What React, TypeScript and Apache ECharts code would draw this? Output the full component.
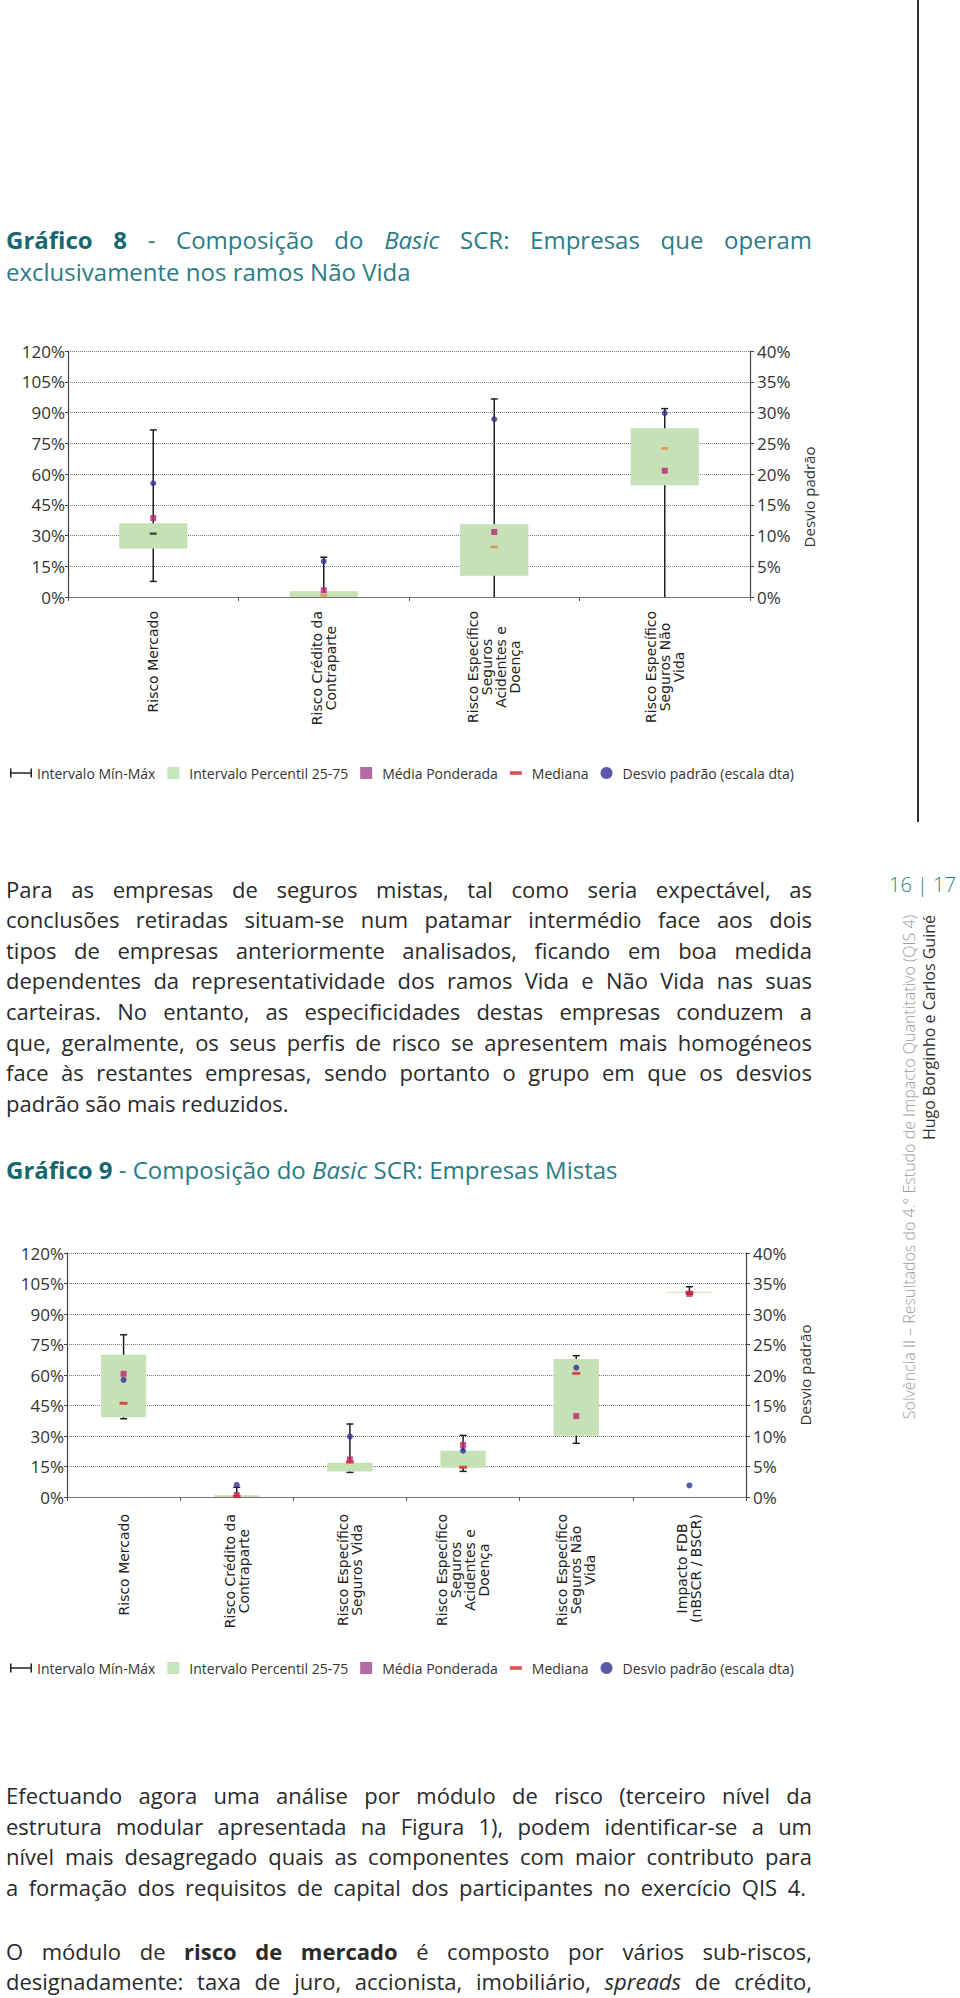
import React, { useEffect, useRef } from 'react';
import * as echarts from 'echarts';

// ---------------- Gráfico 8 (Não Vida) ----------------
const cats8 = [
  'Risco Mercado',
  'Risco Crédito da\nContraparte',
  'Risco Específico\nSeguros\nAcidentes e\nDoença',
  'Risco Específico\nSeguros Não\nVida',
];
const min8 = [7.6, 0, 0, 0];
const max8 = [81.5, 19.4, 96.6, 91.9];
const p25_8 = [23.7, 0, 10.4, 54.5];
const p75_8 = [36.0, 2.8, 35.5, 82.3];
const mean8 = [38.5, 3.3, 31.7, 61.6];
const median8 = [30.9, 0.8, 24.4, 72.5];
const std8 = [18.5, 5.8, 28.9, 29.9];
const medianColors8 = ['#2a2a2a', '#e8873a', '#e8873a', '#e8873a'];

// ---------------- Gráfico 9 (Mistas) ----------------
const cats9 = [
  'Risco Mercado',
  'Risco Crédito da\nContraparte',
  'Risco Específico\nSeguros Vida',
  'Risco Específico\nSeguros\nAcidentes e\nDoença',
  'Risco Específico\nSeguros Não\nVida',
  'Impacto FDB\n(nBSCR / BSCR)',
];
const min9 = [38.5, 0, 12.1, 12.6, 26.4, 99.8];
const max9 = [79.8, 4.8, 35.9, 30.3, 69.5, 103.4];
const p25_9 = [39.2, 0, 12.6, 14.4, 30.1, 100.4];
const p75_9 = [70.0, 0.8, 16.9, 22.8, 67.9, 101.0];
const mean9 = [60.6, 1.0, 18.5, 25.6, 39.8, 99.9];
const median9 = [46.1, 0.3, 17.2, 14.6, 60.8, 100.6];
const std9 = [19.2, 2.0, 9.9, 7.6, 21.2, 1.9];
const medianColors9 = ['#d6262b', '#d6262b', '#d6262b', '#d6262b', '#d6262b', '#d6262b'];

// axes
const leftAxis = { min: 0, max: 120, interval: 15 };
const rightAxis = { min: 0, max: 40, interval: 5 };
const rightAxisName = 'Desvio padrão';

// legend names
const L_RANGE = 'Intervalo Mín-Máx';
const L_BOX = 'Intervalo Percentil 25-75';
const L_MEAN = 'Média Ponderada';
const L_MED = 'Mediana';
const L_STD = 'Desvio padrão (escala dta)';

const FONT = '"Open Sans", "DejaVu Sans", sans-serif';

function buildOption(cfg: any) {
  const { cats, mins, maxs, p25, p75, means, medians, stds, medColors, meanColor,
    grid, legendTop, labelMargin, nameShift, medSize } = cfg;
  const idx = cats.map((_: any, i: number) => i);
  const nameStyle = { fontFamily: FONT, fontSize: 15, color: '#333' };
  return {
    animation: false,
    textStyle: { fontFamily: FONT },
    grid,
    legend: {
      left: 5,
      top: legendTop,
      itemWidth: 22,
      itemHeight: 12,
      itemGap: 12,
      selectedMode: false,
      textStyle: { fontFamily: FONT, fontSize: 14, color: '#333' },
      data: [
        { name: L_RANGE, icon: 'path://M0,0h1.5v9h-1.5z M0,3.8h22v1.4h-22z M20.5,0h1.5v9h-1.5z', itemStyle: { color: '#222' } },
        { name: L_BOX, icon: 'path://M0,0h10v10h-10z', itemStyle: { color: '#c8e6bd' } },
        { name: L_MEAN, icon: 'path://M0,0h10v10h-10z', itemStyle: { color: '#a3468e' } },
        { name: L_MED, icon: 'path://M0,0M0,10M0,3.5h10v3h-10z', itemStyle: { color: '#d4232b' } },
        { name: L_STD, icon: 'circle', itemStyle: { color: '#2e3192' } },
      ],
    },
    xAxis: [
      {
        type: 'category',
        data: cats,
        position: 'bottom',
        axisLine: { lineStyle: { color: '#555', width: 1.2 } },
        axisTick: { show: true, length: 4, lineStyle: { color: '#555' } },
        splitLine: { show: false },
        axisLabel: {
          interval: 0,
          rotate: 90,
          margin: labelMargin,
          color: '#222',
          fontFamily: 'DejaVu Sans',
          fontSize: 14,
          lineHeight: 14,
          formatter: (v: string) => v.split('\n').map((s) => `{c|${s}}`).join('\n'),
          rich: { c: { align: 'center', fontFamily: 'DejaVu Sans', fontSize: 14, lineHeight: 14, color: '#222' } },
        },
      },
      {
        type: 'category',
        data: cats,
        position: 'top',
        axisLine: { show: true, lineStyle: { color: '#777', width: 1.2 } },
        axisTick: { show: false },
        axisLabel: { show: false },
        splitLine: { show: false },
      },
    ],
    yAxis: [
      {
        type: 'value',
        ...leftAxis,
        axisLine: { show: true, lineStyle: { color: '#444', width: 1.2 } },
        axisTick: { show: true, length: 3, lineStyle: { color: '#444' } },
        axisLabel: { formatter: '{value}%', fontSize: 17, color: '#333', margin: 3, fontFamily: FONT },
        splitLine: { show: true, lineStyle: { type: 'dotted', color: '#777', width: 1 } },
      },
      {
        type: 'value',
        position: 'right',
        ...rightAxis,
        name: nameShift > 0 ? `{t|${rightAxisName}}{s|}` : rightAxisName,
        nameLocation: 'middle',
        nameRotate: 90,
        nameGap: 43,
        nameTextStyle: {
          ...nameStyle,
          rich: { t: { ...nameStyle }, s: { width: nameShift, fontSize: 15 } },
        },
        axisLine: { show: true, lineStyle: { color: '#444', width: 1.2 } },
        axisTick: { show: true, length: 4, lineStyle: { color: '#444' } },
        axisLabel: { formatter: '{value}%', fontSize: 17, color: '#333', margin: 7, fontFamily: FONT },
        splitLine: { show: false },
      },
    ],
    series: [
      {
        name: L_RANGE,
        type: 'custom',
        z: 2,
        itemStyle: { color: '#222' },
        encode: { x: 0, y: [1, 2] },
        data: idx.map((i: number) => [i, mins[i], maxs[i]]),
        renderItem: (params: any, api: any) => {
          const i = api.value(0);
          const lo = api.value(1);
          const lp = api.coord([i, lo]);
          const hp = api.coord([i, api.value(2)]);
          const st = { stroke: '#1e1e1e', lineWidth: 1.5 };
          const cap = 3.5;
          const children: any[] = [
            { type: 'line', shape: { x1: lp[0], y1: lp[1], x2: hp[0], y2: hp[1] }, style: st },
            { type: 'line', shape: { x1: hp[0] - cap, y1: hp[1], x2: hp[0] + cap, y2: hp[1] }, style: st },
          ];
          if (lo > 0) {
            children.push({ type: 'line', shape: { x1: lp[0] - cap, y1: lp[1], x2: lp[0] + cap, y2: lp[1] }, style: st });
          }
          return { type: 'group', children };
        },
      },
      {
        name: L_BOX,
        type: 'custom',
        z: 3,
        itemStyle: { color: '#c6e1b5' },
        encode: { x: 0, y: [1, 2] },
        data: idx.map((i: number) => [i, p25[i], p75[i]]),
        renderItem: (params: any, api: any) => {
          const i = api.value(0);
          const lp = api.coord([i, api.value(1)]);
          const hp = api.coord([i, api.value(2)]);
          const w = api.size([1, 0])[0] * 0.4;
          return {
            type: 'rect',
            shape: { x: lp[0] - w / 2, y: hp[1], width: w, height: Math.max(lp[1] - hp[1], 1.2) },
            style: { fill: '#c6e1b5' },
          };
        },
      },
      {
        name: L_STD,
        type: 'scatter',
        yAxisIndex: 1,
        z: 4,
        symbol: 'circle',
        symbolSize: 6,
        itemStyle: { color: '#2e3192' },
        data: idx.map((i: number) => [i, stds[i]]),
      },
      {
        name: L_MEAN,
        type: 'scatter',
        z: 5,
        symbol: 'rect',
        symbolSize: 6,
        itemStyle: { color: meanColor },
        data: idx.map((i: number) => [i, means[i]]),
      },
      {
        name: L_MED,
        type: 'scatter',
        z: 6,
        symbol: 'rect',
        symbolSize: medSize,
        itemStyle: { color: '#d4232b' },
        data: idx.map((i: number) => ({ value: [i, medians[i]], itemStyle: { color: medColors[i] } })),
      },
    ],
  };
}

function Chart({ option, style }: { option: any; style: any }) {
  const ref = useRef<HTMLDivElement>(null);
  useEffect(() => {
    const chart = echarts.init(ref.current as HTMLDivElement, null, { renderer: 'svg' });
    chart.setOption(option);
    return () => chart.dispose();
  }, []);
  return <div ref={ref} style={style} />;
}

const bodyStyle: any = {
  position: 'absolute',
  left: 6,
  width: 806,
  height: 30,
  lineHeight: '30px',
  fontFamily: FONT,
  fontWeight: 400,
  fontSize: 22,
  color: '#2a2a2a',
  whiteSpace: 'normal',
};

function Line({ y, children, justify = true, width = 806 }: any) {
  return (
    <div
      style={{
        ...bodyStyle,
        top: y - 15,
        width,
        textAlign: justify ? 'justify' : 'left',
        textAlignLast: justify ? 'justify' : 'left',
      }}
    >
      {children}
    </div>
  );
}

const para1 = [
  'Para as empresas de seguros mistas, tal como seria expectável, as',
  'conclusões retiradas situam-se num patamar intermédio face aos dois',
  'tipos de empresas anteriormente analisados, ficando em boa medida',
  'dependentes da representatividade dos ramos Vida e Não Vida nas suas',
  'carteiras. No entanto, as especificidades destas empresas conduzem a',
  'que, geralmente, os seus perfis de risco se apresentem mais homogéneos',
  'face às restantes empresas, sendo portanto o grupo em que os desvios',
  'padrão são mais reduzidos.',
];
const para1Y = [889, 919, 950, 980, 1011, 1042, 1072, 1103];

const para2 = [
  'Efectuando agora uma análise por módulo de risco (terceiro nível da',
  'estrutura modular apresentada na Figura 1), podem identificar-se a um',
  'nível mais desagregado quais as componentes com maior contributo para',
  'a formação dos requisitos de capital dos participantes no exercício QIS 4.',
];
const para2Y = [1795, 1826, 1856, 1887];

const titleBold = { fontWeight: 700, color: '#16676f' };

export default function App() {
  const opt8 = buildOption({
    cats: cats8, mins: min8, maxs: max8, p25: p25_8, p75: p75_8, means: mean8, medians: median8,
    stds: std8, medColors: medianColors8, meanColor: '#b8237c',
    grid: { left: 68, right: 167, top: 31, height: 246 },
    legendTop: 441, labelMargin: 14, nameShift: 46, medSize: [7, 2.5],
  });
  const opt9 = buildOption({
    cats: cats9, mins: min9, maxs: max9, p25: p25_9, p75: p75_9, means: mean9, medians: median9,
    stds: std9, medColors: medianColors9, meanColor: '#c41f6c',
    grid: { left: 67, right: 171, top: 33, height: 244 },
    legendTop: 436, labelMargin: 17, nameShift: 0, medSize: [8, 3],
  });

  const titleStyle: any = {
    position: 'absolute', left: 6, width: 806, height: 32, lineHeight: '32px',
    fontFamily: FONT, fontSize: 24, color: '#2a7c84', fontWeight: 400,
  };

  return (
    <div style={{ position: 'absolute', left: 0, top: 0, width: 960, height: 1998, overflow: 'hidden', background: '#fff' }}>
      {/* page divider line */}
      <div style={{ position: 'absolute', left: 917, top: 0, width: 1.5, height: 822, background: '#333' }} />

      {/* Title 8 */}
      <div style={{ ...titleStyle, top: 240 - 16, textAlign: 'justify', textAlignLast: 'justify' }}>
        <span style={titleBold}>Gráfico 8</span> - Composição do <i>Basic</i> SCR: Empresas que operam
      </div>
      <div style={{ ...titleStyle, top: 272 - 16 }}>exclusivamente nos ramos Não Vida</div>

      <Chart option={opt8} style={{ position: 'absolute', left: 0, top: 320, width: 917, height: 480 }} />

      {para1.map((t, i) => (
        <Line key={'p1' + i} y={para1Y[i]} justify={i < para1.length - 1}>{t}</Line>
      ))}

      {/* Title 9 */}
      <div style={{ ...titleStyle, top: 1170 - 16 }}>
        <span style={titleBold}>Gráfico 9</span> - Composição do <i>Basic</i> SCR: Empresas Mistas
      </div>

      <Chart option={opt9} style={{ position: 'absolute', left: 0, top: 1220, width: 917, height: 470 }} />

      {para2.map((t, i) => (
        <Line key={'p2' + i} y={para2Y[i]} width={i === 3 ? 800 : 806}>{t}</Line>
      ))}
      <Line y={1951}>
        O módulo de <b style={{ fontWeight: 700 }}>risco de mercado</b> é composto por vários sub-riscos,
      </Line>
      <Line y={1981}>
        designadamente: taxa de juro, accionista, imobiliário, <i>spreads</i> de crédito,
      </Line>

      {/* page number */}
      <div style={{ position: 'absolute', left: 889, top: 885 - 14, height: 28, lineHeight: '28px', fontFamily: FONT, fontWeight: 300, fontSize: 20, color: '#1f7f86', whiteSpace: 'nowrap' }}>
        16 | 17
      </div>

      {/* side running text */}
      <div style={{ position: 'absolute', left: 899, top: 1515, width: 600, height: 20, lineHeight: '20px', transform: 'rotate(-90deg)', transformOrigin: '0 0', textAlign: 'right', fontFamily: FONT, fontWeight: 300, fontSize: 16, color: '#9b9b9b', whiteSpace: 'nowrap' }}>
        Solvência II – Resultados do 4.° Estudo de Impacto Quantitativo (QIS 4)
      </div>
      <div style={{ position: 'absolute', left: 919, top: 1515, width: 600, height: 20, lineHeight: '20px', transform: 'rotate(-90deg)', transformOrigin: '0 0', textAlign: 'right', fontFamily: FONT, fontWeight: 400, fontSize: 16, color: '#333', whiteSpace: 'nowrap' }}>
        Hugo Borginho e Carlos Guiné
      </div>
    </div>
  );
}
